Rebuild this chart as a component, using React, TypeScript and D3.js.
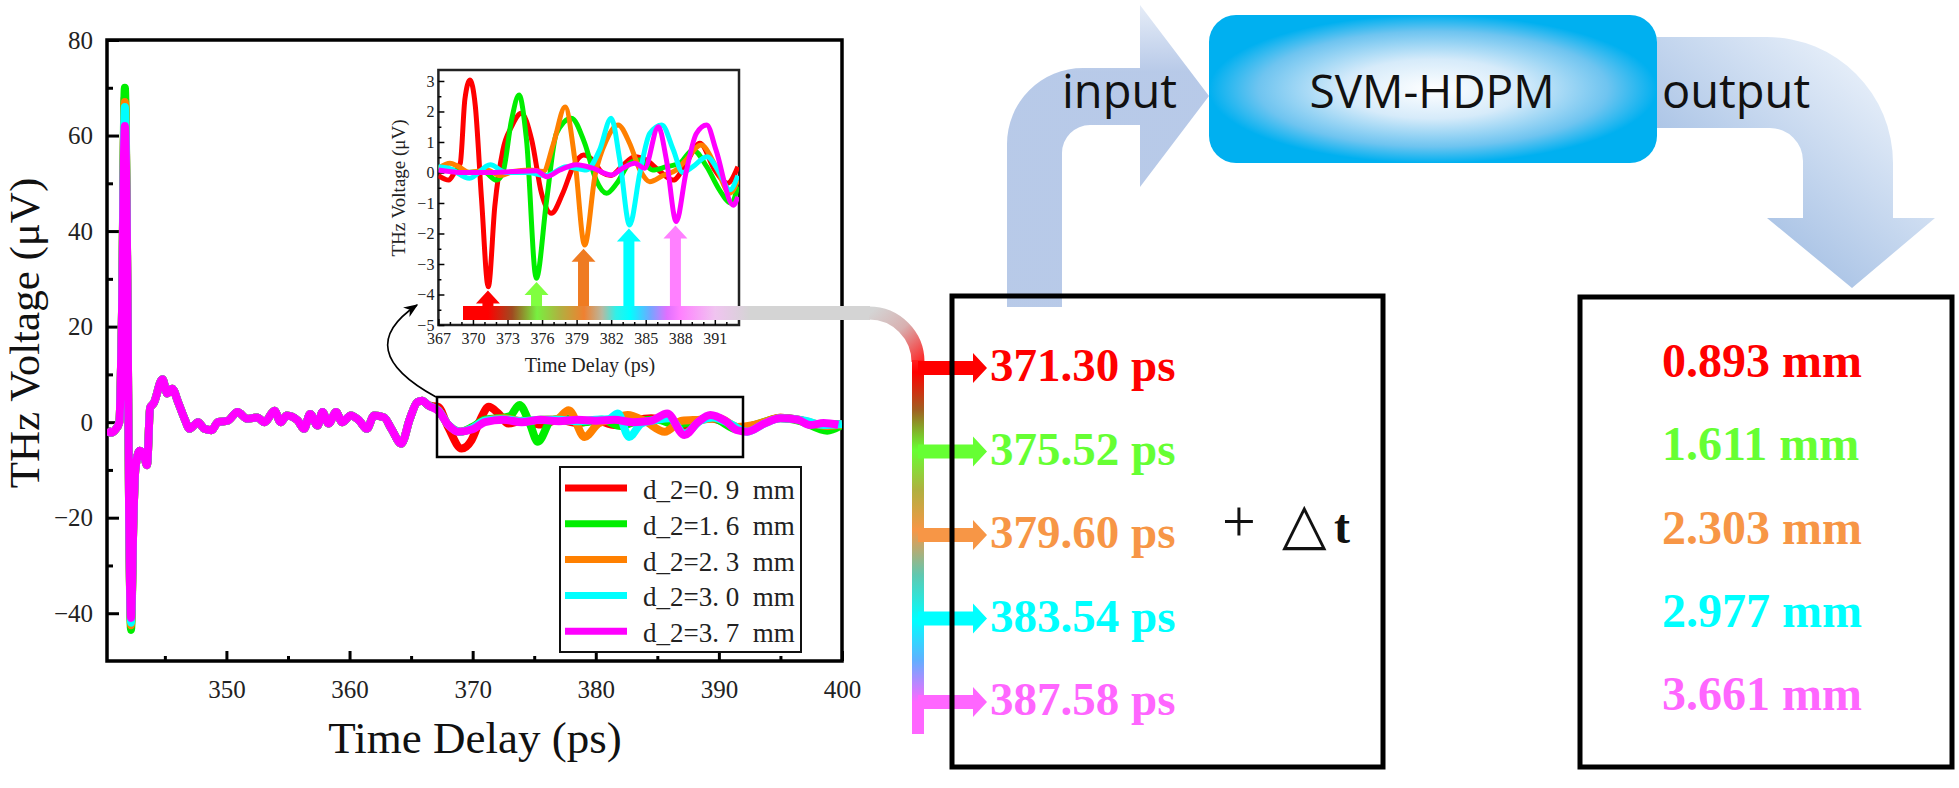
import React, { useEffect, useRef } from "react";
import * as d3 from "d3";

const SERIF = "'Liberation Serif', 'Times New Roman', serif";
const SANS = "'Open Sans', 'Noto Sans', sans-serif";

// legend / series
const seriesNames = ["d_2=0. 9  mm", "d_2=1. 6  mm", "d_2=2. 3  mm", "d_2=3. 0  mm", "d_2=3. 7  mm"];
const lineColors = ["#ff0000", "#00ee00", "#ff8000", "#00ffff", "#ff00ff"];
const labelColors = ["#ff0000", "#66ff33", "#f79646", "#00ffff", "#ff66ff"];
const arrowColors = ["#ff0000", "#80ff40", "#ef7b22", "#00ffff", "#ff80ff"];

// main trace: common pulse, per-series extremes, per-series tails
const pulseRise: [number, number][] = [[340.3, -1.5], [340.6, -2.2], [341.0, -1.5], [341.3, 0], [341.5, 20]];
const peakTime = 341.75;
const mainPeaks = [68, 70, 67, 66, 62];
const pulseMid: [number, number][] = [[341.95, 30], [342.1, -20]];
const troughTime = 342.25;
const mainTroughs = [-42, -43.5, -42.5, -42, -41];
const pulseTail: [number, number][] = [
  [342.45, -20], [342.6, -10], [342.95, -6], [343.3, -7], [343.55, -9], [343.8, 3], [344.1, 4],
  [344.8, 9], [345.2, 6], [345.6, 7], [346.1, 4], [346.6, 0.7], [347.0, -1.4], [347.7, 0],
  [348.2, -1.4], [348.8, -1.7], [349.3, 0], [350.1, 0.3], [350.9, 2.1], [351.7, 0.7], [352.5, 1],
  [353.1, 0], [353.9, 2.4], [354.4, 0], [354.9, 1.4], [355.8, 0.3], [356.3, -1.4], [356.8, 1.7],
  [357.4, -0.7], [357.8, 2.1], [358.3, -0.3], [358.9, 2.1], [359.4, 0], [360.1, 1.4], [360.8, 0.3],
  [361.4, -1.4], [362.0, 1.4], [362.8, 1], [363.4, -1.4], [364.2, -4.5], [364.9, 0.7], [365.5, 4.2],
  [365.9, 4.5], [366.4, 3.5],
];
const mainTails: [number, number][][] = [
  [[367.2, 3.2], [368.0, -1], [369.1, -5.5], [369.9, -3.8], [370.6, 0.4], [371.3, 3.2], [372.1, 1.8],
   [372.9, -0.3], [374, 0.3], [375.5, -0.5], [377, 0.5], [378.5, -0.2], [380, 0.4], [381.5, -0.6],
   [383, 0.3], [384.5, 0.8], [386, 0.2], [387.5, -0.8], [389, 0.9], [390.5, 0], [392, -1.5],
   [393.5, -0.3], [395, 0.9], [396.5, 0.5], [398, -0.5], [400, -0.4]],
  [[367.2, 2.5], [368.0, -0.5], [369.0, -2], [370, -1], [371, 0.5], [372, 0.8], [373, 1.2],
   [373.8, 3.6], [374.6, 0], [375.3, -4.1], [376.4, 0.4], [377.5, 0.8], [379, 0], [380.5, 0.5],
   [382, -0.8], [383.5, 0.3], [385, 0.5], [386.5, -0.5], [388, 0.2], [389.5, 0.8], [391.5, -1.5],
   [393, -0.5], [395, 0.8], [396.5, 0.3], [398.8, -1.8], [400, -0.6]],
  [[367.2, 2.5], [368, -0.5], [369, -2], [370, -1.2], [371, 0.3], [372.5, 0.8], [374, 0.2],
   [375.5, 0.5], [376.8, 0.6], [377.8, 2.5], [379.1, -3.1], [380.2, -0.3], [381.3, 0.6],
   [382.6, 1.5], [384, 0.2], [385.6, -2], [387, 0.3], [388.5, 0.5], [390, 0.8], [391.5, -1],
   [393, -0.5], [395, 0.9], [397, 0.2], [398.8, -0.8], [400, -0.5]],
  [[367.2, 2.5], [368, -0.5], [369, -2], [370, -1.2], [371, 0.3], [372.5, 0.6], [374, 0.2],
   [375.5, 0.5], [377, 0.5], [378.5, 0.2], [380, 0.5], [381, 0.6], [381.8, 1.8], [382.7, -3.1],
   [383.7, -0.3], [385, 0.5], [386, 0.8], [387.2, -2.4], [388.5, 0.3], [389.5, 1], [391, -0.5],
   [392.3, -2], [393.7, -0.3], [395, 0.8], [397, 0.3], [398.5, -0.6], [400, -0.4]],
  [[367.2, 2.4], [368, -0.5], [368.8, -2], [370, -1.5], [371, 0], [372.5, 0.5], [374, 0],
   [375.5, 0.5], [377, 0.2], [378.5, 0.5], [380, 0.3], [381.5, 0.5], [383, 0], [384.5, 0.3],
   [385.8, 1.8], [387.2, -2.7], [388.3, 0], [389.3, 1.5], [390.5, 0.3], [391.5, -1.7],
   [392.3, -2], [393.7, -0.3], [395, 0.8], [396.4, 0.5], [397.4, -0.6], [398.5, -0.2], [399.7, -0.6]],
];

// inset (zoomed window 367-393 ps)
const insetSeries: [number, number][][] = [
  [[367.0, -0.1], [367.9, -0.25], [368.4, 0], [368.9, 0.3], [369.3, 2.4], [369.74, 3.03], [370.2, 2.2],
   [370.75, -0.9], [371.33, -3.75], [371.9, -1.1], [372.6, 0.74], [373.35, 1.5], [374.2, 1.94],
   [375.1, 1.07], [375.95, -0.68], [376.8, -1.34], [377.8, -0.68], [378.7, 0.19], [379.6, 0.57],
   [380.4, 0.41], [381.2, 0], [382.0, -0.1], [382.9, 0.19], [384.05, 0.52], [385.05, 0.41],
   [386.1, 0.08], [387.4, -0.25], [388.5, 0.3], [389.7, 0.96], [391.0, 0.08], [392.1, -0.35], [393.0, 0.19]],
  [[367.0, 0.14], [368.3, 0.08], [369.45, 0], [370.9, 0.03], [372.05, -0.25], [372.6, 0], [373.35, 1.72],
   [374.0, 2.54], [374.65, 1.07], [375.5, -3.47], [376.4, -0.9], [377.25, 1.28], [378.55, 1.78],
   [379.7, 0.96], [380.7, -0.25], [381.6, -0.68], [382.5, -0.35], [383.6, 0.3], [384.5, 0.41],
   [385.6, 0.08], [386.8, 0.19], [387.95, 0.3], [389.1, 0.74], [390.3, 0.19], [391.4, -0.57],
   [392.4, -1.0], [393.0, -0.46]],
  [[367.0, 0.14], [368.0, 0.3], [368.7, 0.2], [369.7, 0], [371.2, 0.08], [372.35, -0.1], [373.5, 0.03],
   [374.9, 0.08], [376.1, 0.03], [377.0, 0.96], [378.0, 2.15], [378.85, 0.41], [379.7, -2.38],
   [380.6, -0.1], [381.6, 1.07], [382.6, 1.56], [383.6, 0.96], [384.5, 0.08], [385.35, -0.3],
   [386.5, -0.1], [387.65, 0.08], [388.5, 0.41], [389.8, 0.9], [391.1, 0.19], [392.3, -0.68], [393.0, -0.25]],
  [[367.0, 0.19], [367.9, 0.14], [369.7, -0.19], [371.5, 0.25], [372.9, 0], [374.65, 0], [376.4, -0.1],
   [378.1, 0.19], [379.85, 0.08], [381.0, 0.74], [382.0, 1.78], [382.75, 0.41], [383.6, -1.72],
   [384.5, 0], [385.35, 1.28], [386.4, 1.56], [387.4, 0.74], [388.2, 0], [389.1, 0.19], [390.3, 0.52],
   [391.4, 0], [392.3, -0.57], [393.0, -0.1]],
  [[367.0, 0.08], [368.9, 0], [371.2, 0], [373.5, 0.03], [375.5, 0.06], [376.4, -0.14], [377.55, 0.08],
   [379.0, 0.25], [380.4, 0.14], [382.0, -0.08], [383.0, 0.14], [384.05, 0.3], [384.9, 0.14],
   [386.1, 1.5], [386.8, 0.41], [387.65, -1.61], [388.5, 0], [389.4, 1.28], [390.3, 1.56],
   [391.1, 0.74], [392.6, -1.07], [393.0, -0.8]],
];
const insetTroughs = [-3.75, -3.47, -2.38, -1.72, -1.62];

// results
const tofValues = [371.3, 375.52, 379.6, 383.54, 387.58];
const thickValues = [0.893, 1.611, 2.303, 2.977, 3.661];

const mainYTicks = [-40, -20, 0, 20, 40, 60, 80];
const mainYMinor = [-30, -10, 10, 30, 50, 70];
const mainXTicks = [350, 360, 370, 380, 390, 400];
const mainXMinor = [345, 355, 365, 375, 385, 395];
const insetXTicks = [367, 370, 373, 376, 379, 382, 385, 388, 391];
const insetXMinor = [368, 369, 371, 372, 374, 375, 377, 378, 380, 381, 383, 384, 386, 387, 389, 390, 392];
const insetYTicks = [-5, -4, -3, -2, -1, 0, 1, 2, 3];
const insetYMinor = [-4.5, -3.5, -2.5, -1.5, -0.5, 0.5, 1.5, 2.5];

const W = 1959;
const H = 788;

const xMain = d3.scaleLinear().domain([340.3, 400]).range([107, 842]);
const yMain = d3.scaleLinear().domain([-50, 80]).range([661, 40]);
const xIn = d3.scaleLinear().domain([367, 393.1]).range([438.4, 739]);
const yIn = d3.scaleLinear().domain([-5, 3.36]).range([325, 70]);

const mainLine = d3.line<[number, number]>().x((d) => xMain(d[0])).y((d) => yMain(d[1])).curve(d3.curveMonotoneX);
const insetLine = d3.line<[number, number]>().x((d) => xIn(d[0])).y((d) => yIn(d[1])).curve(d3.curveMonotoneX);

const mainSeries = mainPeaks.map((p, i) => [
  ...pulseRise,
  [peakTime, p] as [number, number],
  ...pulseMid,
  [troughTime, mainTroughs[i]] as [number, number],
  ...pulseTail,
  ...mainTails[i],
]);

const stopsAbs = (from: number, to: number, stops: [number, string][]) =>
  stops.map(([p, c], i) => <stop key={i} offset={(p - from) / (to - from)} stopColor={c} />);

const App: React.FC = () => {
  const mainAxesRef = useRef<SVGGElement>(null);
  const insetAxesRef = useRef<SVGGElement>(null);

  useEffect(() => {
    const addAxis = (
      root: SVGGElement | null,
      axis: any,
      transform: string,
      fontSize: number,
      strokeW: number
    ) => {
      const g = d3.select(root).append("g").attr("transform", transform).call(axis);
      g.select(".domain").remove();
      g.selectAll("line").attr("stroke", "#000").attr("stroke-width", strokeW);
      g.selectAll("text").attr("font-family", SERIF).attr("font-size", fontSize).attr("fill", "#222");
      g.attr("font-family", null).attr("font-size", null);
    };
    d3.select(mainAxesRef.current).selectAll("*").remove();
    d3.select(insetAxesRef.current).selectAll("*").remove();

    addAxis(mainAxesRef.current, d3.axisLeft(yMain).tickValues(mainYTicks).tickSize(-12).tickPadding(14), "translate(107,0)", 25, 3);
    addAxis(mainAxesRef.current, d3.axisLeft(yMain).tickValues(mainYMinor).tickSize(-6).tickFormat(() => ""), "translate(107,0)", 25, 3);
    addAxis(mainAxesRef.current, d3.axisBottom(xMain).tickValues(mainXTicks).tickSize(-10).tickPadding(19), "translate(0,661)", 25, 3);
    addAxis(mainAxesRef.current, d3.axisBottom(xMain).tickValues(mainXMinor).tickSize(-5).tickFormat(() => ""), "translate(0,661)", 25, 3);

    addAxis(insetAxesRef.current, d3.axisLeft(yIn).tickValues(insetYTicks).tickSize(-6).tickPadding(4), "translate(438.4,0)", 16, 1.5);
    addAxis(insetAxesRef.current, d3.axisLeft(yIn).tickValues(insetYMinor).tickSize(-3).tickFormat(() => ""), "translate(438.4,0)", 16, 1.5);
    addAxis(insetAxesRef.current, d3.axisBottom(xIn).tickValues(insetXTicks).tickSize(-6).tickPadding(8), "translate(0,325)", 16, 1.5);
    addAxis(insetAxesRef.current, d3.axisBottom(xIn).tickValues(insetXMinor).tickSize(-3).tickFormat(() => ""), "translate(0,325)", 16, 1.5);
  }, []);

  return (
    <div style={{ position: "absolute", left: 0, top: 0 }}>
      <svg width={W} height={H} style={{ display: "block", background: "#fff" }}>
        <defs>
          <clipPath id="mainClip">
            <rect x={107} y={40} width={735} height={621} />
          </clipPath>
          <clipPath id="insetClip">
            <rect x={438.4} y={70} width={300.6} height={255} />
          </clipPath>
          <marker id="arrowHead" viewBox="0 0 10 10" refX={9} refY={5} markerWidth={9} markerHeight={9} orient="auto">
            <path d="M0,1 L10,5 L0,9 L3,5 Z" fill="#000" />
          </marker>
          <linearGradient id="hbar" gradientUnits="userSpaceOnUse" x1={463} y1={0} x2={870} y2={0}>
            {stopsAbs(463, 870, [
              [463, "#ff0000"], [488, "#ff0000"], [512, "#a04a20"], [537, "#78f040"], [560, "#b0b040"],
              [584, "#f08030"], [602, "#b8b8a0"], [616, "#30f0e8"], [630, "#00ffff"], [650, "#70a8ff"],
              [667, "#e070ff"], [680, "#ff80ff"], [715, "#f0c4f0"], [750, "#d4d4d4"], [870, "#d4d4d4"],
            ])}
          </linearGradient>
          <linearGradient id="arcbar" gradientUnits="userSpaceOnUse" x1={870} y1={313} x2={918} y2={368}>
            <stop offset={0} stopColor="#d4d4d4" />
            <stop offset={0.45} stopColor="#d8b0b0" />
            <stop offset={1} stopColor="#ff2020" />
          </linearGradient>
          <linearGradient id="vbar" gradientUnits="userSpaceOnUse" x1={0} y1={360} x2={0} y2={734}>
            {stopsAbs(360, 734, [
              [360, "#ff2020"], [372, "#ff0000"], [410, "#a06020"], [450, "#66ff33"], [490, "#b0b040"],
              [530, "#f79646"], [575, "#60c8b0"], [620, "#00ffff"], [660, "#60b0ff"], [702, "#ff66ff"],
              [734, "#ff66ff"],
            ])}
          </linearGradient>
          <linearGradient id="inArrow" gradientUnits="userSpaceOnUse" x1={0} y1={0} x2={0} y2={90}>
            <stop offset={0} stopColor="#e8eef8" />
            <stop offset={0.8} stopColor="#b4c7e7" />
            <stop offset={1} stopColor="#b4c7e7" />
          </linearGradient>
          <linearGradient id="outArrow" gradientUnits="userSpaceOnUse" x1={1700} y1={260} x2={1890} y2={40}>
            <stop offset={0} stopColor="#96b5df" />
            <stop offset={1} stopColor="#f2f7fd" />
          </linearGradient>
          <radialGradient id="boxFill" cx="50%" cy="50%" r="50%">
            <stop offset={0} stopColor="#ffffff" />
            <stop offset={0.4} stopColor="#d6ebfa" />
            <stop offset={0.78} stopColor="#6ec4f0" />
            <stop offset={1} stopColor="#00b0f0" />
          </radialGradient>
        </defs>

        {/* main chart */}
        <rect x={107} y={40} width={735} height={621} fill="#fff" stroke="#000" strokeWidth={3.5} />
        <g ref={mainAxesRef} />
        <g clipPath="url(#mainClip)">
          {mainSeries.map((s, i) => (
            <path key={i} d={mainLine(s) || ""} fill="none" stroke={lineColors[i]} strokeWidth={8} strokeLinejoin="round" />
          ))}
        </g>
        <rect x={437} y={397} width={306} height={60} fill="none" stroke="#000" strokeWidth={2.5} />
        <text
          transform="translate(39,333) rotate(-90)"
          textAnchor="middle"
          fontFamily={SERIF}
          fontSize={43}
          fill="#111"
        >
          THz Voltage (μV)
        </text>
        <text x={475} y={753} textAnchor="middle" fontFamily={SERIF} fontSize={45} fill="#111">
          Time Delay (ps)
        </text>

        {/* legend */}
        <rect x={560} y={467} width={241} height={185} fill="#fff" stroke="#111" strokeWidth={2} />
        {seriesNames.map((n, i) => {
          const y = 488 + i * 35.8;
          return (
            <g key={i}>
              <line x1={565} x2={627} y1={y} y2={y} stroke={lineColors[i]} strokeWidth={7} />
              <text x={643} y={y + 11} fontFamily={SERIF} fontSize={27} fill="#222" style={{ whiteSpace: "pre" }}>
                {n}
              </text>
            </g>
          );
        })}

        {/* curved pointer to the inset */}
        <path d="M436,397 Q350,350 417,305" fill="none" stroke="#000" strokeWidth={1.6} markerEnd="url(#arrowHead)" />

        {/* inset */}
        <rect x={438.4} y={70} width={300.6} height={255} fill="#fff" stroke="#222" strokeWidth={2.5} />
        <g ref={insetAxesRef} />
        <g clipPath="url(#insetClip)">
          {insetSeries.map((s, i) => (
            <path key={i} d={insetLine(s) || ""} fill="none" stroke={lineColors[i]} strokeWidth={5} strokeLinejoin="round" />
          ))}
        </g>
        <text
          transform="translate(405,188) rotate(-90)"
          textAnchor="middle"
          fontFamily={SERIF}
          fontSize={19}
          fill="#222"
        >
          THz Voltage (μV)
        </text>
        <text x={590} y={372} textAnchor="middle" fontFamily={SERIF} fontSize={20} fill="#222">
          Time Delay (ps)
        </text>

        {/* arrival-time arrows in the inset */}
        {tofValues.map((t, i) => {
          const cx = xIn(t);
          const tip = yIn(insetTroughs[i] - 0.12);
          const sw = 5.5, hw = 12, hl = 13;
          const d = `M${cx - sw},314 V${tip + hl} H${cx - hw} L${cx},${tip} L${cx + hw},${tip + hl} H${cx + sw} V314 Z`;
          return <path key={i} d={d} fill={arrowColors[i]} />;
        })}

        {/* colour bar leading to the results */}
        <rect x={463} y={306} width={407} height={14} fill="url(#hbar)" />
        <path d="M869,313 A49,49 0 0 1 918,362" fill="none" stroke="url(#arcbar)" strokeWidth={13} />
        <rect x={912} y={360} width={12} height={374} fill="url(#vbar)" />
        {tofValues.map((_, i) => {
          const y = 368 + i * 83.5;
          const d = `M918,${y - 7} H973 V${y - 15} L987,${y} L973,${y + 15} V${y + 7} H918 Z`;
          return <path key={i} d={d} fill={labelColors[i]} />;
        })}

        {/* flow diagram */}
        <path
          d="M1007,307 V144 A76,76 0 0 1 1083,68 H1140 V5 L1209,96 L1140,187 V125 H1090 A28,28 0 0 0 1062,153 V307 Z"
          fill="url(#inArrow)"
          opacity={0.95}
        />
        <path
          d="M1657,37 H1767 A126,126 0 0 1 1893,163 V218 H1935 L1852,288 L1767,218 H1803 V161 A33,33 0 0 0 1770,128 H1657 Z"
          fill="url(#outArrow)"
        />
        <rect x={1209} y={15} width={448} height={148} rx={27} fill="url(#boxFill)" />
        <text x={1062} y={108} fontFamily={SANS} fontSize={47} fill="#111">input</text>
        <text x={1432} y={108} textAnchor="middle" fontFamily={SANS} fontSize={46} fill="#111">SVM-HDPM</text>
        <text x={1662} y={108} fontFamily={SANS} fontSize={47} fill="#111">output</text>

        {/* result boxes */}
        <rect x={952} y={296} width={431} height={471} fill="none" stroke="#000" strokeWidth={5} />
        {tofValues.map((v, i) => (
          <text key={i} x={990} y={381 + i * 83.5} fontFamily={SERIF} fontWeight="bold" fontSize={47} fill={labelColors[i]}>
            {v.toFixed(2)} ps
          </text>
        ))}
        <text x={1222} y={541} fontFamily={SERIF} fontSize={60} fill="#111">+</text>
        <text x={1282} y={543} fontFamily="'DejaVu Sans', sans-serif" fontSize={58} fill="#111">△</text>
        <text x={1334} y={543} fontFamily={SERIF} fontWeight="bold" fontSize={48} fill="#111">t</text>

        <rect x={1580} y={297} width={372} height={470} fill="none" stroke="#000" strokeWidth={5} />
        {thickValues.map((v, i) => (
          <text key={i} x={1662} y={377 + i * 83.3} fontFamily={SERIF} fontWeight="bold" fontSize={48} fill={labelColors[i]}>
            {v.toFixed(3)} mm
          </text>
        ))}
      </svg>
    </div>
  );
};

export default App;
